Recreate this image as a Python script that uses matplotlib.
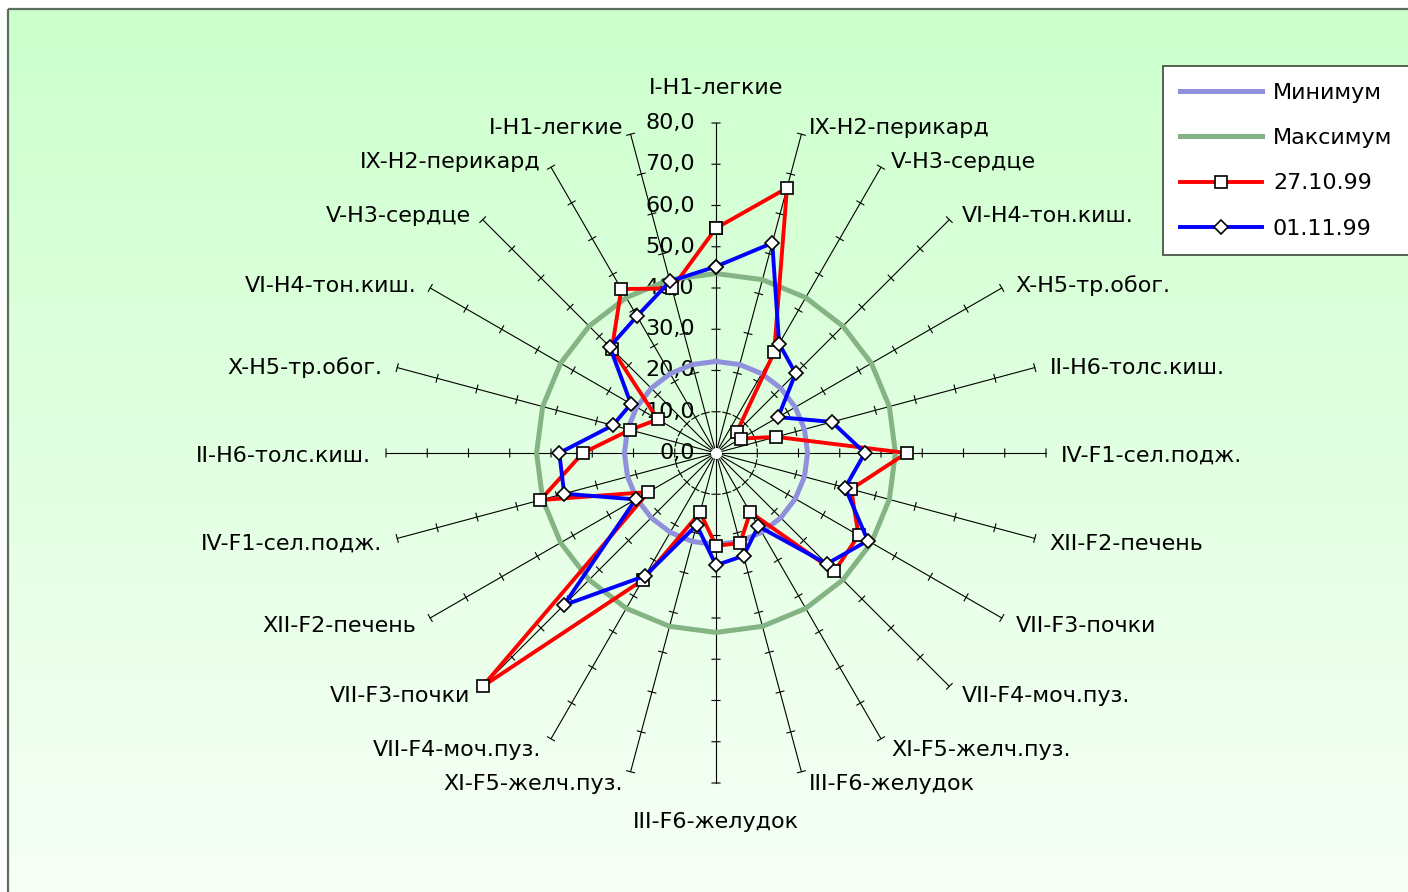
import numpy as np
import matplotlib
matplotlib.use("Agg")
import matplotlib.pyplot as plt
from matplotlib.colors import LinearSegmentedColormap
from matplotlib.lines import Line2D
from matplotlib.patches import Rectangle

plt.rcParams['font.family'] = ['DejaVu Sans']

categories = ["I-H1-легкие", "IX-H2-перикард", "V-H3-сердце", "VI-H4-тон.киш.",
              "X-H5-тр.обог.", "II-H6-толс.киш.", "IV-F1-сел.подж.", "XII-F2-печень",
              "VII-F3-почки", "VII-F4-моч.пуз.", "XI-F5-желч.пуз.", "III-F6-желудок",
              "III-F6-желудок", "XI-F5-желч.пуз.", "VII-F4-моч.пуз.", "VII-F3-почки",
              "XII-F2-печень", "IV-F1-сел.подж.", "II-H6-толс.киш.", "X-H5-тр.обог.",
              "VI-H4-тон.киш.", "V-H3-сердце", "IX-H2-перикард", "I-H1-легкие"]

minimum = [22.2, 22.2, 22.2, 22.2, 22.2, 22.2, 22.2, 22.2, 22.2, 22.2, 22.2, 22.2,
           22.2, 22.2, 22.2, 22.2, 22.2, 22.2, 22.2, 22.2, 22.2, 22.2, 22.2, 22.2]
maximum = [43.5, 43.5, 43.5, 43.5, 43.5, 43.5, 43.5, 43.5, 43.5, 43.5, 43.5, 43.5,
           43.5, 43.5, 43.5, 43.5, 43.5, 43.5, 43.5, 43.5, 43.5, 43.5, 43.5, 43.5]
s_271099 = [54.5, 66.5, 28.2, 7.1, 7.0, 15.1, 46.2, 33.9, 39.9, 40.6, 16.6, 22.6,
            22.5, 14.9, 35.6, 80.0, 18.9, 44.1, 32.3, 21.6, 16.3, 35.7, 45.9, 41.3]
s_011199 = [45.2, 52.7, 30.6, 27.3, 17.4, 29.1, 36.1, 32.4, 42.5, 38.0, 20.5, 25.8,
            27.2, 18.1, 34.4, 52.2, 22.5, 38.1, 38.0, 25.9, 23.8, 36.4, 38.3, 43.1]
series_names = ["Минимум", "Максимум", "27.10.99", "01.11.99"]

r_ticks = [0, 10, 20, 30, 40, 50, 60, 70, 80]
r_max = 80
fs = 16

W, H = 1408, 892
fig = plt.figure(figsize=(W / 100, H / 100), dpi=100)
fig.patch.set_facecolor("white")

# background: chart area with a green-to-white gradient
bg = fig.add_axes([0, 0, 1, 1], zorder=-1)
bg.set_xlim(0, W)
bg.set_ylim(H, 0)
bg.axis("off")
grad_cmap = LinearSegmentedColormap.from_list("g", ["#CCFFCC", "#F7FFF7"])
bg.imshow(np.linspace(0, 1, 256).reshape(-1, 1), cmap=grad_cmap, aspect="auto",
          extent=[8, W + 2, H + 2, 9], interpolation="bilinear")
bg.add_patch(Rectangle((8, 9), W, H, fill=False, ec="#5C6E5C", lw=1.6))

# radar axes: centre (716, 453) px, radius 330 px
cx, cy, R = 716, 453, 330
ax = fig.add_axes([(cx - R) / W, (H - cy - R) / H, 2 * R / W, 2 * R / H],
                  projection="polar")
ax.set_theta_zero_location("N")
ax.set_theta_direction(-1)
ax.set_ylim(0, r_max)
ax.axis("off")
ax.patch.set_visible(False)

n = len(categories)
theta = np.arange(n) * 2 * np.pi / n

# spokes with cross tick marks
h = 4.0 * r_max / R
tx, ty = [], []
for th in theta:
    ax.plot([th, th], [0, r_max], color="black", lw=0.8, clip_on=False, zorder=1)
    for v in r_ticks[1:]:
        d = np.arctan(h / v)
        rr = np.hypot(v, h)
        tx += [th - d, th + d, np.nan]
        ty += [rr, rr, np.nan]
ax.plot(tx, ty, color="black", lw=0.8, clip_on=False, zorder=1)

# value labels on the vertical axis
for v in r_ticks:
    ax.annotate(f"{v:.1f}".replace(".", ","), xy=(0, v), xytext=(-21, 0),
                textcoords="offset pixels", ha="right", va="center", fontsize=fs,
                zorder=2)

# category labels
for k, (th, lab) in enumerate(zip(theta, categories)):
    s, c = np.sin(th), np.cos(th)
    if abs(s) < 1e-6:
        ha = "center"
        off = (0, 35) if c > 0 else (0, -39)
    else:
        ha = "left" if s > 0 else "right"
        off = (np.sign(s) * (5 + 10 * abs(s)), -3 + 10 * c)
    ax.annotate(lab, xy=(th, r_max), xytext=off, textcoords="offset pixels",
                ha=ha, va="center", fontsize=fs, annotation_clip=False)

th_c = np.append(theta, theta[0])


def closed(vals):
    return np.append(vals, vals[0])


ax.plot(th_c, closed(minimum), color="#9090DC", lw=3.6, clip_on=False, zorder=3)
ax.plot(th_c, closed(maximum), color="#84B484", lw=3.6, clip_on=False, zorder=3)
ax.plot(th_c, closed(s_271099), color="#FF0000", lw=2.8, marker="s", ms=8,
        mfc="white", mec="black", mew=1.2, clip_on=False, zorder=4)
ax.plot(th_c, closed(s_011199), color="#0000FF", lw=2.8, marker="D", ms=7,
        mfc="white", mec="black", mew=1.2, clip_on=False, zorder=5)
ax.plot([0], [0], marker="o", ms=7, mfc="white", mec="white", zorder=6)

handles = [
    Line2D([], [], color="#9090DC", lw=3.6),
    Line2D([], [], color="#84B484", lw=3.6),
    Line2D([], [], color="#FF0000", lw=2.8, marker="s", ms=8, mfc="white",
           mec="black", mew=1.2),
    Line2D([], [], color="#0000FF", lw=2.8, marker="D", ms=7, mfc="white",
           mec="black", mew=1.2),
]
leg = fig.legend(handles, series_names, loc="upper left",
                 bbox_to_anchor=(1163 / W, 1 - 66 / H), borderaxespad=0,
                 fontsize=fs, handlelength=3.7, handletextpad=0.5,
                 labelspacing=1.14, borderpad=0.75, fancybox=False,
                 framealpha=1, edgecolor="#3C463C", facecolor="white")
leg.get_frame().set_linewidth(1.2)

fig.savefig("out.png", dpi=100)
